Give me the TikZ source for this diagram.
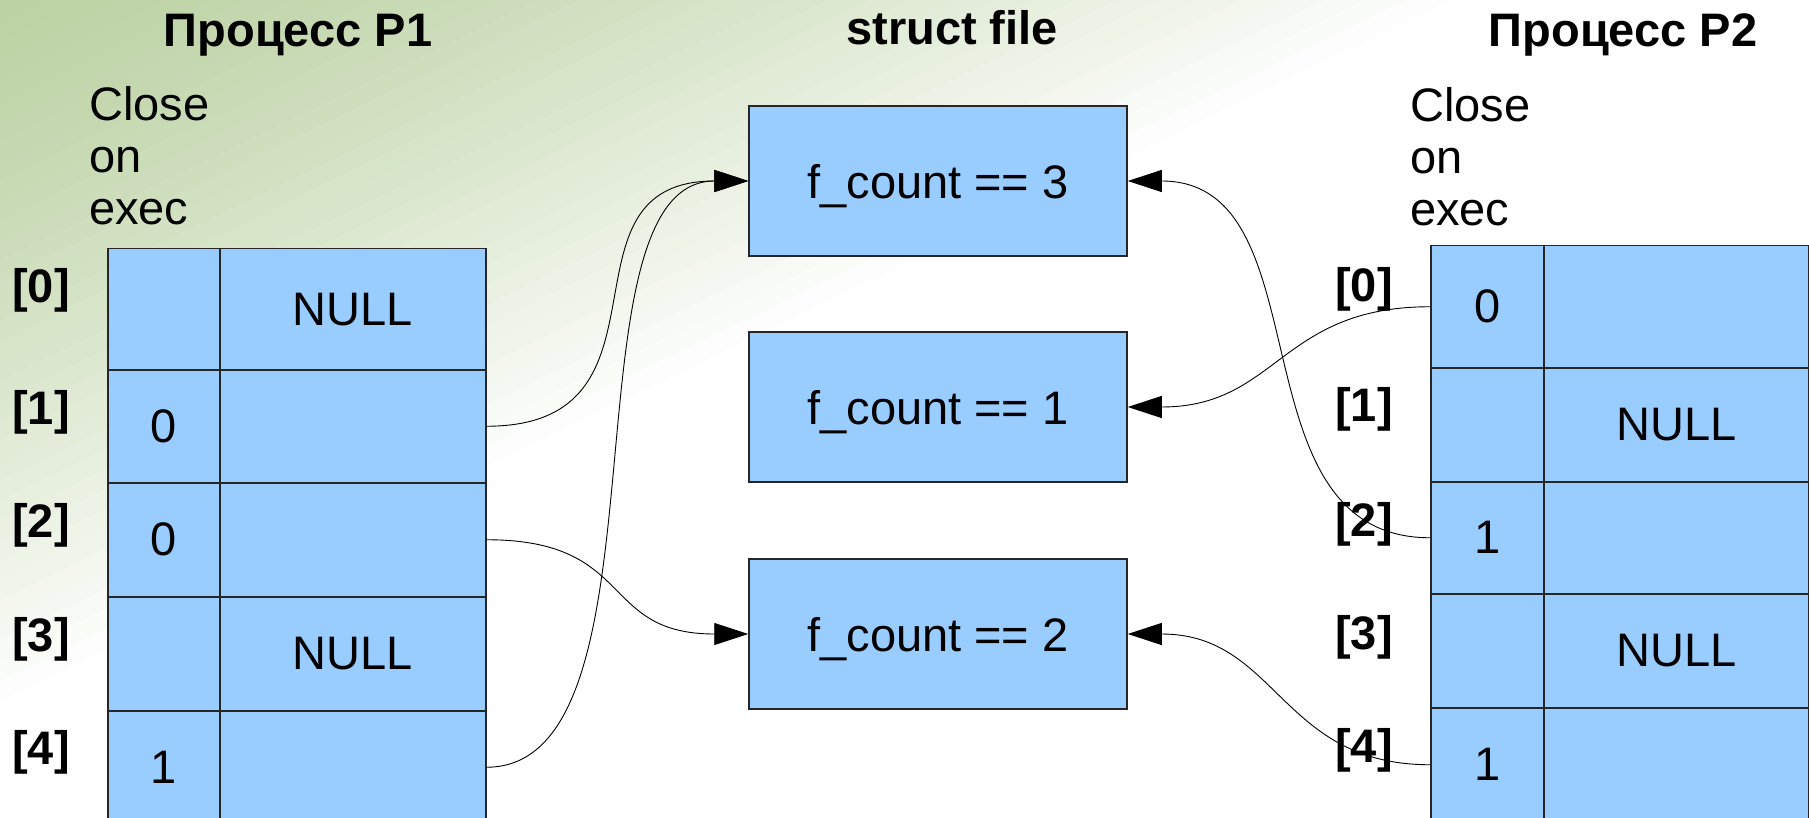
\documentclass[tikz,border=0pt]{standalone}
\usepackage{fontspec}
\setmainfont{Liberation Sans}
\usetikzlibrary{arrows.meta}
\definecolor{cellblue}{HTML}{99CCFF}
\definecolor{bggreen}{RGB}{188,210,164}
\newcommand{\bigfont}{\fontsize{47}{52}\selectfont}
\tikzset{
  cell/.style={draw=black!85, fill=cellblue, line width=1.5pt, inner sep=0pt, anchor=north west, font=\bigfont},
  filebox/.style={draw=black!85, fill=cellblue, line width=1.5pt, minimum width=378pt, minimum height=150pt, text depth=0pt, font=\bigfont},
  title/.style={font=\bigfont\bfseries, anchor=base},
  idx/.style={font=\bigfont\bfseries},
  note/.style={anchor=north west, align=left, inner sep=0pt, font=\bigfont},
  ptr/.style={-{Triangle[length=34pt,width=22pt]}, line width=0.9pt}
}

\begin{document}
\begin{tikzpicture}[x=1pt,y=-1pt]
\useasboundingbox (0,0) rectangle (1809,818);
\begin{scope}
\clip (0,0) rectangle (1809,818);
\fill[white] (0,0) rectangle (1809,818);
\begin{scope}[rotate=-64.2]
\foreach \i in {0,...,34} {
  \pgfmathsetmacro{\p}{100*(1-(\i/35)^1.3)}
  \fill[bggreen!\p!white] (\i*18,-2000) rectangle (\i*18+19,2000);
}
\end{scope}
\end{scope}

\node[title] (p1title) at (298,47) {Процесс P1};
\node[title] (sftitle) at (952,45) {struct file};
\node[title] (p2title) at (1623,47) {Процесс P2};
\node[note] (p1note) at (89,86) {Close\\on\\exec};
\node[note] (p2note) at (1410,87) {Close\\on\\exec};

\foreach \i/\top/\h/\ly/\flag/\file in {0/248/121/290/{}/NULL, 1/369/113/412/0/{}, 2/482/114/525/0/{}, 3/596/114/639/{}/NULL, 4/710/113/752/1/{}} {
  \node[cell, minimum width=112pt, minimum height=\h pt] (p1c\i) at (107,\top) {\flag};
  \node[cell, minimum width=266pt, minimum height=\h pt] (p1f\i) at (219,\top) {\file};
  \node[idx] (p1i\i) at (41,\ly) {[\i]};
}
\foreach \i/\top/\h/\ly/\flag/\file in {0/245/122/289/0/{}, 1/367/114/409/{}/NULL, 2/481/112/524/1/{}, 3/593/114/637/{}/NULL, 4/707/114/750/1/{}} {
  \node[cell, minimum width=113pt, minimum height=\h pt] (p2c\i) at (1430,\top) {\flag};
  \node[cell, minimum width=265pt, minimum height=\h pt] (p2f\i) at (1543,\top) {\file};
  \node[idx] (p2i\i) at (1364,\ly) {[\i]};
}

\node[filebox] (file3) at (938,181) {f\_count == 3};
\node[filebox] (file1) at (938,407) {f\_count == 1};
\node[filebox] (file2) at (938,634) {f\_count == 2};

\draw[ptr] (p1f1.east) .. controls +(200,0) and +(-200,0) .. (file3.west);
\draw[ptr] (p1f4.east) .. controls +(190,0) and +(-190,0) .. (file3.west);
\draw[ptr] (p1f2.east) .. controls +(150,0) and +(-150,0) .. (file2.west);
\draw[ptr] (p2c0.west) .. controls +(-150,0) and +(150,0) .. (file1.east);
\draw[ptr] (p2c2.west) .. controls +(-200,0) and +(200,0) .. (file3.east);
\draw[ptr] (p2c4.west) .. controls +(-150,0) and +(150,0) .. (file2.east);
\end{tikzpicture}
\end{document}
